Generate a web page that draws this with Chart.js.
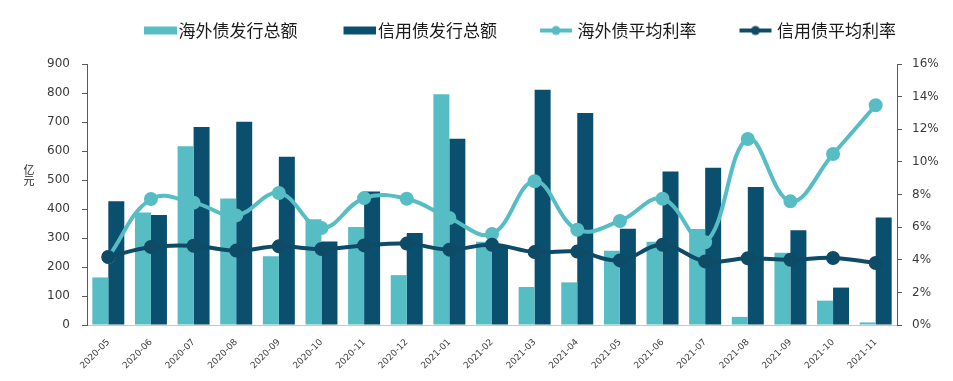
<!DOCTYPE html>
<html><head><meta charset="utf-8">
<script src="https://cdn.jsdelivr.net/npm/chart.js@4.4.1/dist/chart.umd.min.js"></script>
<style>html,body{margin:0;padding:0;background:#fff;overflow:hidden}#wrap{width:953px;height:381px;position:relative}</style>
</head><body><div id="wrap"><canvas id="c" width="953" height="381"></canvas></div>
<script>
const categories = ['2020-05','2020-06','2020-07','2020-08','2020-09','2020-10','2020-11','2020-12','2021-01','2021-02','2021-03','2021-04','2021-05','2021-06','2021-07','2021-08','2021-09','2021-10','2021-11'];
const overseasAmount = [164,388,616,436,237,365,338,172,796,287,131,147,256,287,331,28,249,84,9];
const creditAmount = [427,379,683,701,580,288,460,317,642,270,811,731,332,529,542,476,327,129,371];
const overseasRate = [4.17,7.72,7.50,6.72,8.09,5.95,7.78,7.74,6.56,5.58,8.81,5.84,6.38,7.74,5.07,11.4,7.58,10.48,13.47];
const creditRate = [4.17,4.78,4.86,4.56,4.82,4.66,4.88,4.99,4.62,4.92,4.47,4.50,3.96,4.92,3.90,4.09,4.00,4.11,3.80];
const seriesNames = ['海外债发行总额','信用债发行总额','海外债平均利率','信用债平均利率'];
const leftAxis = {min:0, max:900, step:100};
const rightAxis = {min:0, max:16, step:2};
const unitText = ['亿','元'];

const LIGHT = '#57BDC5', DARK = '#0B4F6F', DARKLINE = '#0E4B67';

function legendIcon(kind, color) {
  const c = document.createElement('canvas');
  c.width = 76; c.height = 14;
  const g = c.getContext('2d');
  g.fillStyle = color; g.strokeStyle = color;
  if (kind === 'bar') {
    g.fillRect(43, 3, 33, 8);
  } else {
    g.lineWidth = 4;
    g.beginPath(); g.moveTo(40, 7); g.lineTo(72, 7); g.stroke();
    g.beginPath(); g.arc(56, 7, 4.5, 0, Math.PI * 2); g.fill();
  }
  return c;
}
const icons = [legendIcon('bar', LIGHT), legendIcon('bar', DARK), legendIcon('line', LIGHT), legendIcon('line', DARKLINE)];

const extras = {
  id: 'extras',
  afterLayout(chart) {
    const lg = chart.legend;
    if (lg) {
      const dx = 98 - lg.left, dy = 12 - lg.top;
      lg.left += dx; lg.right += dx; lg.top += dy; lg.bottom += dy;
    }
  },
  afterDraw(chart) {
    const ctx = chart.ctx;
    ctx.save();
    ctx.setTransform(1, 0, 0, 1, 0, 0);
    ctx.font = '11px "Noto Sans CJK SC"';
    ctx.fillStyle = '#262626';
    ctx.textAlign = 'center';
    ctx.textBaseline = 'middle';
    ctx.fillText(unitText[0], 29, 170);
    ctx.fillText(unitText[1], 29, 181);
    ctx.restore();
  }
};

new Chart(document.getElementById('c'), {
  data: {
    labels: categories,
    datasets: [
      {type:'bar', label: seriesNames[0], data: overseasAmount, backgroundColor: LIGHT, yAxisID:'y', order:2, barPercentage:1, categoryPercentage:0.75},
      {type:'bar', label: seriesNames[1], data: creditAmount, backgroundColor: DARK, yAxisID:'y', order:3, barPercentage:1, categoryPercentage:0.75},
      {type:'line', label: seriesNames[2], data: overseasRate, borderColor: LIGHT, backgroundColor: LIGHT, pointBackgroundColor: LIGHT, pointBorderColor: LIGHT, borderWidth:4, pointRadius:5, tension:0.4, yAxisID:'y1', order:1},
      {type:'line', label: seriesNames[3], data: creditRate, borderColor: DARKLINE, backgroundColor: DARKLINE, pointBackgroundColor: DARKLINE, pointBorderColor: DARKLINE, borderWidth:4, pointRadius:5, tension:0.4, yAxisID:'y1', order:0}
    ]
  },
  options: {
    responsive: false,
    animation: false,
    layout: {padding: {left:0, right:0, top:27, bottom:0}},
    plugins: {
      tooltip: {enabled:false},
      legend: {
        position: 'top',
        align: 'start',
        labels: {
          usePointStyle: true,
          pointStyleWidth: 62,
          padding: 10,
          color: '#1a1a1a',
          font: {family: '"Noto Sans CJK SC"', size: 17},
          generateLabels: (chart) => seriesNames.map((t, i) => ({
            text: t, datasetIndex: i, pointStyle: icons[i], fillStyle: 'transparent', strokeStyle: 'transparent', lineWidth: 0, hidden: false, fontColor: '#1a1a1a'
          }))
        }
      }
    },
    scales: {
      x: {
        offset: true,
        grid: {display:false},
        border: {display:true, color:'#c8c8c8', width:1},
        ticks: {autoSkip:false, minRotation:45, maxRotation:45, padding:4, color:'#404040', font:{family:'"DejaVu Sans"', size:9}},
        afterFit: (s) => { s.height = 56; }
      },
      y: {
        position: 'left', min: leftAxis.min, max: leftAxis.max,
        grid: {drawOnChartArea:false, drawTicks:true, tickLength:5, color:'#595959'},
        border: {display:true, color:'#595959', width:1},
        ticks: {stepSize: leftAxis.step, padding:12, color:'#3a3a3a', font:{family:'"DejaVu Sans"', size:12}},
        afterFit: (s) => { s.width = 87; }
      },
      y1: {
        position: 'right', min: rightAxis.min, max: rightAxis.max,
        grid: {drawOnChartArea:false, drawTicks:true, tickLength:5, color:'#595959'},
        border: {display:true, color:'#595959', width:1},
        ticks: {stepSize: rightAxis.step, padding:10, color:'#3a3a3a', font:{family:'"DejaVu Sans"', size:12}, callback: (v) => v + '%'},
        afterFit: (s) => { s.width = 56; }
      }
    }
  },
  plugins: [extras]
});
</script></body></html>
